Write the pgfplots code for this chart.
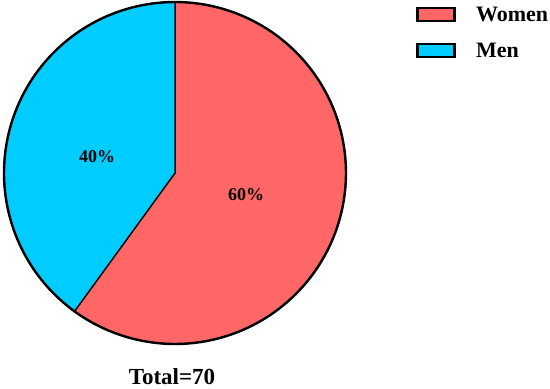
\documentclass[border=0pt]{standalone}
\usepackage{fontspec}
\setmainfont{Liberation Serif}
\usepackage{pgfplots}
\usepackage{pgfplotstable}
\pgfplotsset{compat=1.18}
\definecolor{womencol}{RGB}{255,102,102}
\definecolor{mencol}{RGB}{0,204,255}

% values: Women 42, Men 28 (total 70)
\pgfplotstableread{
group value
Women 42
Men   28
}\pietable
\pgfplotstablegetelem{0}{value}\of\pietable \let\vwomen\pgfplotsretval
\pgfplotstablegetelem{1}{value}\of\pietable \let\vmen\pgfplotsretval
\pgfmathsetmacro{\vtotal}{\vwomen+\vmen}
\pgfmathsetmacro{\awomen}{90-360*\vwomen/\vtotal}
\pgfmathsetmacro{\amen}{\awomen-360*\vmen/\vtotal}

\begin{document}
\begin{tikzpicture}
\path[use as bounding box] (0,0) rectangle (550pt,389pt);
\begin{axis}[
  at={(0,0)}, anchor=south west,
  width=550pt, height=389pt, scale only axis,
  xmin=0, xmax=550, ymin=0, ymax=389,
  hide axis, clip=false,
  legend style={at={(axis cs:416,384)}, anchor=north west, draw=none, fill=none,
    font=\bfseries\fontsize{22}{24}\selectfont, row sep=16pt, inner sep=0pt,
    nodes={inner sep=2pt}},
  legend cell align=left,
  legend image code/.code={\draw[#1, draw=black, line width=2.4pt] (0pt,-6pt) rectangle (37pt,7pt);
    \path (56pt,0pt);},
]
\addplot[fill=womencol, draw=black, line width=1.3pt, domain=\awomen:90, samples=150, variable=\t]
  ({175+171*cos(\t)},{216+171*sin(\t)}) -- (axis cs:175,216) -- cycle;
\addlegendentry{Women}
\addplot[fill=mencol, draw=black, line width=1.3pt, domain=\amen:\awomen, samples=150, variable=\t]
  ({175+171*cos(\t)},{216+171*sin(\t)}) -- (axis cs:175,216) -- cycle;
\addlegendentry{Men}
\addplot[draw=black, line width=2.4pt, domain=0:360, samples=200, variable=\t, forget plot]
  ({175+171*cos(\t)},{216+171*sin(\t)});
\node[font=\bfseries\fontsize{18}{20}\selectfont] at (axis cs:246,194) {60\%};
\node[font=\bfseries\fontsize{18}{20}\selectfont] at (axis cs:97,232) {40\%};
\node[font=\bfseries\fontsize{23}{25}\selectfont, anchor=base] at (axis cs:172,4) {Total=70};
\end{axis}
\end{tikzpicture}
\end{document}
